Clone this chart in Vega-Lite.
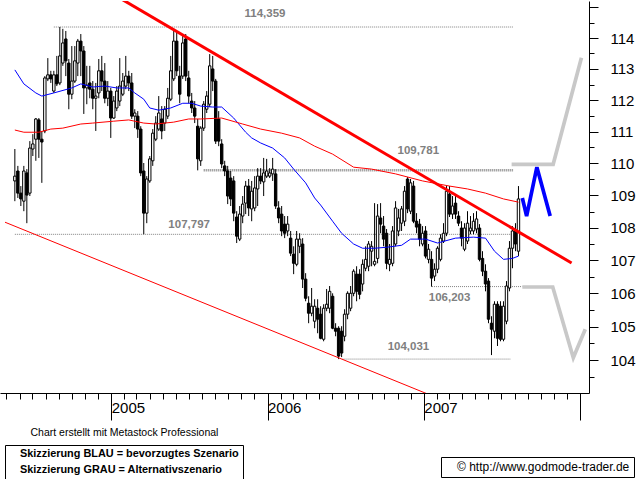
{
"$schema": "https://vega.github.io/schema/vega-lite/v6.json",
"width": 589, "height": 392, "padding": 0, "autosize": {"type": "pad"},
"background": "white",
"config": {"view": {"stroke": null}, "font": "Liberation Sans"},
"datasets": {
"candles": [
{"d":"2004-05-21","o":109.45,"h":110.45,"l":108.82,"c":109.60},
{"d":"2004-05-28","o":109.76,"h":109.92,"l":108.92,"c":109.07},
{"d":"2004-06-04","o":109.07,"h":109.29,"l":108.67,"c":108.89},
{"d":"2004-06-11","o":108.82,"h":109.92,"l":108.51,"c":109.76},
{"d":"2004-06-18","o":109.70,"h":109.82,"l":108.14,"c":109.01},
{"d":"2004-06-25","o":109.07,"h":110.70,"l":108.98,"c":110.48},
{"d":"2004-07-02","o":110.45,"h":110.92,"l":110.23,"c":110.61},
{"d":"2004-07-09","o":110.76,"h":111.43,"l":110.08,"c":111.40},
{"d":"2004-07-16","o":111.37,"h":111.43,"l":110.17,"c":110.76},
{"d":"2004-07-23","o":110.76,"h":111.02,"l":109.39,"c":110.67},
{"d":"2004-07-30","o":111.02,"h":112.77,"l":110.95,"c":112.71},
{"d":"2004-08-06","o":112.68,"h":113.35,"l":112.61,"c":112.81},
{"d":"2004-08-13","o":112.81,"h":112.94,"l":112.55,"c":112.68},
{"d":"2004-08-20","o":112.29,"h":112.94,"l":112.23,"c":112.81},
{"d":"2004-08-27","o":112.81,"h":113.42,"l":112.45,"c":112.52},
{"d":"2004-09-03","o":112.55,"h":114.36,"l":112.48,"c":113.42},
{"d":"2004-09-10","o":113.19,"h":114.30,"l":113.10,"c":113.84},
{"d":"2004-09-17","o":113.97,"h":114.23,"l":112.77,"c":113.26},
{"d":"2004-09-24","o":113.19,"h":113.32,"l":111.71,"c":112.19},
{"d":"2004-10-01","o":112.19,"h":113.74,"l":112.03,"c":112.61},
{"d":"2004-10-08","o":112.61,"h":113.74,"l":112.55,"c":113.26},
{"d":"2004-10-15","o":113.19,"h":113.97,"l":112.77,"c":113.90},
{"d":"2004-10-22","o":113.90,"h":114.13,"l":112.77,"c":113.58},
{"d":"2004-10-29","o":113.58,"h":113.74,"l":111.56,"c":112.39},
{"d":"2004-11-05","o":112.39,"h":113.10,"l":111.87,"c":112.48},
{"d":"2004-11-12","o":112.55,"h":113.10,"l":112.06,"c":112.35},
{"d":"2004-11-19","o":112.35,"h":112.61,"l":111.71,"c":112.06},
{"d":"2004-11-26","o":112.06,"h":112.55,"l":111.02,"c":112.13},
{"d":"2004-12-03","o":112.23,"h":113.32,"l":112.06,"c":112.94},
{"d":"2004-12-10","o":112.94,"h":113.42,"l":112.29,"c":112.61},
{"d":"2004-12-17","o":112.61,"h":113.19,"l":111.90,"c":112.06},
{"d":"2004-12-24","o":112.06,"h":112.61,"l":111.81,"c":112.29},
{"d":"2004-12-31","o":112.29,"h":112.39,"l":110.80,"c":111.43},
{"d":"2005-01-07","o":111.43,"h":112.13,"l":111.40,"c":111.97},
{"d":"2005-01-14","o":111.75,"h":112.45,"l":111.65,"c":112.29},
{"d":"2005-01-21","o":111.97,"h":113.35,"l":111.81,"c":112.45},
{"d":"2005-01-28","o":112.19,"h":112.87,"l":112.13,"c":112.61},
{"d":"2005-02-04","o":112.45,"h":113.42,"l":112.35,"c":112.77},
{"d":"2005-02-11","o":112.77,"h":112.94,"l":112.29,"c":112.55},
{"d":"2005-02-18","o":112.55,"h":112.87,"l":111.40,"c":111.49},
{"d":"2005-02-25","o":111.49,"h":111.71,"l":111.11,"c":111.59},
{"d":"2005-03-04","o":111.49,"h":111.65,"l":110.80,"c":111.08},
{"d":"2005-03-11","o":111.08,"h":111.17,"l":109.60,"c":109.70},
{"d":"2005-03-18","o":109.76,"h":110.01,"l":107.80,"c":108.45},
{"d":"2005-03-25","o":108.45,"h":109.60,"l":108.14,"c":109.51},
{"d":"2005-04-01","o":109.45,"h":110.23,"l":109.39,"c":110.14},
{"d":"2005-04-08","o":110.08,"h":111.08,"l":109.92,"c":110.95},
{"d":"2005-04-15","o":110.76,"h":111.49,"l":110.70,"c":111.27},
{"d":"2005-04-22","o":111.08,"h":112.13,"l":111.02,"c":111.59},
{"d":"2005-04-29","o":111.40,"h":111.81,"l":110.76,"c":111.02},
{"d":"2005-05-06","o":111.27,"h":111.81,"l":111.02,"c":111.71},
{"d":"2005-05-13","o":111.49,"h":112.39,"l":111.40,"c":112.06},
{"d":"2005-05-20","o":112.03,"h":113.42,"l":111.97,"c":112.94},
{"d":"2005-05-27","o":112.68,"h":114.30,"l":112.61,"c":113.90},
{"d":"2005-06-03","o":113.90,"h":114.23,"l":112.77,"c":112.94},
{"d":"2005-06-10","o":112.77,"h":113.10,"l":111.90,"c":112.19},
{"d":"2005-06-17","o":112.77,"h":114.13,"l":112.68,"c":113.84},
{"d":"2005-06-24","o":113.97,"h":114.13,"l":112.61,"c":112.77},
{"d":"2005-07-01","o":112.71,"h":112.94,"l":111.90,"c":112.13},
{"d":"2005-07-08","o":111.97,"h":112.23,"l":111.59,"c":111.75},
{"d":"2005-07-15","o":111.75,"h":111.97,"l":111.27,"c":111.49},
{"d":"2005-07-22","o":111.17,"h":111.40,"l":109.78,"c":110.14},
{"d":"2005-07-29","o":110.08,"h":111.17,"l":109.92,"c":111.11},
{"d":"2005-08-05","o":111.11,"h":111.97,"l":111.02,"c":111.87},
{"d":"2005-08-12","o":111.71,"h":112.29,"l":111.59,"c":112.13},
{"d":"2005-08-19","o":111.87,"h":113.48,"l":111.78,"c":113.10},
{"d":"2005-08-26","o":113.00,"h":113.42,"l":112.29,"c":112.61},
{"d":"2005-09-02","o":112.61,"h":112.68,"l":110.61,"c":110.70},
{"d":"2005-09-09","o":111.40,"h":111.65,"l":110.54,"c":110.70},
{"d":"2005-09-16","o":110.61,"h":110.76,"l":109.85,"c":109.98},
{"d":"2005-09-23","o":109.92,"h":110.08,"l":109.60,"c":109.76},
{"d":"2005-09-30","o":109.76,"h":109.92,"l":108.73,"c":108.98},
{"d":"2005-10-07","o":109.54,"h":109.76,"l":108.67,"c":108.89},
{"d":"2005-10-14","o":109.45,"h":109.60,"l":108.20,"c":108.45},
{"d":"2005-10-21","o":108.33,"h":108.51,"l":107.53,"c":107.74},
{"d":"2005-10-28","o":107.65,"h":108.67,"l":107.59,"c":108.42},
{"d":"2005-11-04","o":108.36,"h":108.98,"l":108.14,"c":108.73},
{"d":"2005-11-11","o":108.76,"h":109.45,"l":108.42,"c":109.29},
{"d":"2005-11-18","o":109.29,"h":109.51,"l":108.36,"c":108.61},
{"d":"2005-11-25","o":108.58,"h":109.45,"l":108.20,"c":109.13},
{"d":"2005-12-02","o":108.61,"h":109.60,"l":108.51,"c":109.23},
{"d":"2005-12-09","o":109.20,"h":109.85,"l":108.67,"c":109.60},
{"d":"2005-12-16","o":109.60,"h":109.85,"l":109.35,"c":109.45},
{"d":"2005-12-23","o":109.42,"h":110.17,"l":108.98,"c":109.70},
{"d":"2005-12-30","o":109.60,"h":110.14,"l":109.54,"c":109.76},
{"d":"2006-01-06","o":109.60,"h":109.85,"l":109.54,"c":109.70},
{"d":"2006-01-13","o":109.67,"h":110.17,"l":109.45,"c":109.82},
{"d":"2006-01-20","o":109.67,"h":109.82,"l":108.58,"c":108.67},
{"d":"2006-01-27","o":108.61,"h":108.82,"l":108.14,"c":108.30},
{"d":"2006-02-03","o":108.42,"h":108.67,"l":107.74,"c":107.90},
{"d":"2006-02-10","o":108.11,"h":108.36,"l":107.68,"c":107.83},
{"d":"2006-02-17","o":107.90,"h":108.36,"l":107.74,"c":108.11},
{"d":"2006-02-24","o":107.68,"h":107.90,"l":107.13,"c":107.22},
{"d":"2006-03-03","o":107.19,"h":107.43,"l":106.58,"c":106.91},
{"d":"2006-03-10","o":106.88,"h":107.90,"l":106.82,"c":107.65},
{"d":"2006-03-17","o":107.43,"h":107.83,"l":107.22,"c":107.65},
{"d":"2006-03-24","o":107.50,"h":107.68,"l":106.16,"c":106.43},
{"d":"2006-03-31","o":106.43,"h":106.61,"l":105.76,"c":105.85},
{"d":"2006-04-07","o":105.70,"h":105.91,"l":105.10,"c":105.40},
{"d":"2006-04-14","o":105.40,"h":106.16,"l":105.31,"c":105.61},
{"d":"2006-04-21","o":105.16,"h":105.82,"l":104.95,"c":105.61},
{"d":"2006-04-28","o":105.55,"h":105.82,"l":104.80,"c":105.22},
{"d":"2006-05-05","o":105.37,"h":105.61,"l":104.62,"c":104.65},
{"d":"2006-05-12","o":104.62,"h":105.67,"l":104.56,"c":105.55},
{"d":"2006-05-19","o":105.55,"h":106.13,"l":105.46,"c":105.67},
{"d":"2006-05-26","o":105.55,"h":106.22,"l":105.40,"c":106.06},
{"d":"2006-06-02","o":105.91,"h":106.00,"l":104.92,"c":104.95},
{"d":"2006-06-09","o":104.95,"h":105.10,"l":104.71,"c":104.86},
{"d":"2006-06-16","o":104.95,"h":105.01,"l":104.03,"c":104.12},
{"d":"2006-06-23","o":104.86,"h":105.01,"l":104.09,"c":104.21},
{"d":"2006-06-30","o":104.71,"h":105.52,"l":104.56,"c":105.37},
{"d":"2006-07-07","o":105.37,"h":106.06,"l":105.22,"c":106.00},
{"d":"2006-07-14","o":105.55,"h":106.22,"l":105.46,"c":106.00},
{"d":"2006-07-21","o":106.00,"h":106.73,"l":105.91,"c":106.67},
{"d":"2006-07-28","o":106.58,"h":106.82,"l":105.76,"c":106.06},
{"d":"2006-08-04","o":106.58,"h":106.73,"l":105.82,"c":105.97},
{"d":"2006-08-11","o":106.28,"h":107.03,"l":106.06,"c":106.88},
{"d":"2006-08-18","o":106.76,"h":107.43,"l":106.67,"c":107.03},
{"d":"2006-08-25","o":106.82,"h":107.59,"l":106.67,"c":107.50},
{"d":"2006-09-01","o":107.28,"h":107.59,"l":106.82,"c":107.43},
{"d":"2006-09-08","o":106.88,"h":108.76,"l":106.82,"c":106.97},
{"d":"2006-09-15","o":107.06,"h":108.73,"l":106.91,"c":108.36},
{"d":"2006-09-22","o":108.30,"h":108.76,"l":107.83,"c":108.11},
{"d":"2006-09-29","o":108.05,"h":108.36,"l":107.43,"c":107.65},
{"d":"2006-10-06","o":107.83,"h":107.96,"l":106.73,"c":106.91},
{"d":"2006-10-13","o":106.88,"h":107.50,"l":106.67,"c":107.03},
{"d":"2006-10-20","o":106.91,"h":108.05,"l":106.82,"c":107.90},
{"d":"2006-10-27","o":107.50,"h":108.82,"l":107.43,"c":108.61},
{"d":"2006-11-03","o":107.90,"h":108.58,"l":107.74,"c":108.30},
{"d":"2006-11-10","o":108.14,"h":108.67,"l":107.90,"c":108.58},
{"d":"2006-11-17","o":108.20,"h":109.29,"l":108.05,"c":109.13},
{"d":"2006-11-24","o":109.51,"h":109.57,"l":108.45,"c":108.58},
{"d":"2006-12-01","o":108.51,"h":109.51,"l":108.42,"c":109.39},
{"d":"2006-12-08","o":109.29,"h":109.45,"l":108.14,"c":108.20},
{"d":"2006-12-15","o":108.20,"h":108.45,"l":107.83,"c":108.02},
{"d":"2006-12-22","o":108.11,"h":108.27,"l":107.43,"c":107.65},
{"d":"2006-12-29","o":107.50,"h":108.05,"l":107.43,"c":107.83},
{"d":"2007-01-05","o":107.90,"h":108.05,"l":107.06,"c":107.13},
{"d":"2007-01-12","o":107.03,"h":107.50,"l":106.91,"c":107.34},
{"d":"2007-01-19","o":107.03,"h":107.28,"l":106.20,"c":106.46},
{"d":"2007-01-26","o":106.52,"h":106.91,"l":106.37,"c":106.73},
{"d":"2007-02-02","o":106.73,"h":107.43,"l":106.61,"c":107.37},
{"d":"2007-02-09","o":107.03,"h":107.80,"l":106.97,"c":107.68},
{"d":"2007-02-16","o":107.59,"h":108.14,"l":107.53,"c":107.83},
{"d":"2007-02-23","o":107.83,"h":109.29,"l":107.74,"c":109.13},
{"d":"2007-03-02","o":109.04,"h":109.29,"l":108.33,"c":108.42},
{"d":"2007-03-09","o":108.42,"h":108.98,"l":108.27,"c":108.67},
{"d":"2007-03-16","o":108.76,"h":108.98,"l":108.27,"c":108.42},
{"d":"2007-03-23","o":108.36,"h":108.51,"l":108.05,"c":108.14},
{"d":"2007-03-30","o":107.99,"h":108.20,"l":107.43,"c":107.68},
{"d":"2007-04-06","o":107.34,"h":108.14,"l":107.28,"c":107.99},
{"d":"2007-04-13","o":107.59,"h":108.51,"l":107.50,"c":108.14},
{"d":"2007-04-20","o":107.90,"h":108.36,"l":107.80,"c":107.99},
{"d":"2007-04-27","o":107.90,"h":108.45,"l":107.80,"c":108.20},
{"d":"2007-05-04","o":107.96,"h":108.51,"l":107.83,"c":108.27},
{"d":"2007-05-11","o":107.99,"h":108.11,"l":106.97,"c":107.03},
{"d":"2007-05-18","o":107.06,"h":107.28,"l":106.52,"c":106.67},
{"d":"2007-05-25","o":106.67,"h":106.88,"l":106.06,"c":106.28},
{"d":"2007-06-01","o":106.37,"h":106.46,"l":105.10,"c":105.22},
{"d":"2007-06-08","o":105.10,"h":105.31,"l":104.15,"c":104.92},
{"d":"2007-06-15","o":104.86,"h":105.76,"l":104.65,"c":105.67},
{"d":"2007-06-22","o":105.67,"h":105.76,"l":104.42,"c":104.65},
{"d":"2007-06-29","o":105.61,"h":105.76,"l":104.56,"c":104.62},
{"d":"2007-07-06","o":104.62,"h":105.76,"l":104.56,"c":105.61},
{"d":"2007-07-13","o":105.16,"h":106.37,"l":105.07,"c":106.22},
{"d":"2007-07-20","o":106.16,"h":107.59,"l":106.06,"c":107.37},
{"d":"2007-07-27","o":107.37,"h":108.05,"l":106.76,"c":107.90},
{"d":"2007-08-03","o":107.90,"h":108.14,"l":107.28,"c":107.50},
{"d":"2007-08-10","o":107.28,"h":109.29,"l":107.13,"c":108.89}
],
"ma": [
{"m":"b","d":"2004-05-21","v":112.97},{"m":"b","d":"2004-06-11","v":112.52},{"m":"b","d":"2004-07-09","v":112.23},{"m":"b","d":"2004-07-23","v":112.13},
{"m":"b","d":"2004-08-20","v":112.23},{"m":"b","d":"2004-10-01","v":112.39},{"m":"b","d":"2004-10-22","v":112.52},{"m":"b","d":"2004-11-19","v":112.42},
{"m":"b","d":"2004-12-17","v":112.45},{"m":"b","d":"2005-01-14","v":112.39},{"m":"b","d":"2005-02-11","v":112.39},{"m":"b","d":"2005-02-25","v":112.23},
{"m":"b","d":"2005-03-18","v":112.03},{"m":"b","d":"2005-04-01","v":111.75},{"m":"b","d":"2005-04-22","v":111.68},{"m":"b","d":"2005-05-20","v":111.75},
{"m":"b","d":"2005-06-17","v":111.90},{"m":"b","d":"2005-07-08","v":111.90},{"m":"b","d":"2005-07-29","v":111.81},{"m":"b","d":"2005-08-26","v":111.78},
{"m":"b","d":"2005-09-16","v":111.78},{"m":"b","d":"2005-10-14","v":111.43},{"m":"b","d":"2005-11-11","v":110.98},{"m":"b","d":"2005-11-25","v":110.80},
{"m":"b","d":"2005-12-16","v":110.64},{"m":"b","d":"2006-01-13","v":110.48},{"m":"b","d":"2006-02-10","v":110.17},{"m":"b","d":"2006-03-03","v":109.82},
{"m":"b","d":"2006-03-31","v":109.39},{"m":"b","d":"2006-04-21","v":108.92},{"m":"b","d":"2006-05-05","v":108.70},{"m":"b","d":"2006-06-02","v":108.20},
{"m":"b","d":"2006-06-23","v":107.83},{"m":"b","d":"2006-07-21","v":107.50},{"m":"b","d":"2006-08-11","v":107.37},{"m":"b","d":"2006-09-08","v":107.37},
{"m":"b","d":"2006-10-06","v":107.40},{"m":"b","d":"2006-11-10","v":107.46},{"m":"b","d":"2006-12-01","v":107.65},{"m":"b","d":"2007-01-05","v":107.65},
{"m":"b","d":"2007-02-02","v":107.53},{"m":"b","d":"2007-03-16","v":107.68},{"m":"b","d":"2007-04-27","v":107.71},{"m":"b","d":"2007-05-25","v":107.68},
{"m":"b","d":"2007-06-15","v":107.28},{"m":"b","d":"2007-07-06","v":107.03},{"m":"b","d":"2007-07-27","v":107.06},{"m":"b","d":"2007-08-10","v":107.13},
{"m":"r","d":"2004-05-21","v":111.05},{"m":"r","d":"2004-06-11","v":110.98},{"m":"r","d":"2004-07-16","v":110.98},{"m":"r","d":"2004-08-13","v":111.08},
{"m":"r","d":"2004-09-10","v":111.11},{"m":"r","d":"2004-10-22","v":111.24},{"m":"r","d":"2004-11-19","v":111.27},{"m":"r","d":"2005-01-07","v":111.33},
{"m":"r","d":"2005-02-11","v":111.37},{"m":"r","d":"2005-03-18","v":111.27},{"m":"r","d":"2005-04-15","v":111.24},{"m":"r","d":"2005-05-27","v":111.30},
{"m":"r","d":"2005-07-01","v":111.40},{"m":"r","d":"2005-07-29","v":111.40},{"m":"r","d":"2005-09-16","v":111.43},{"m":"r","d":"2005-11-04","v":111.24},
{"m":"r","d":"2005-12-16","v":111.08},{"m":"r","d":"2006-02-03","v":110.95},{"m":"r","d":"2006-03-17","v":110.80},{"m":"r","d":"2006-04-21","v":110.54},
{"m":"r","d":"2006-06-02","v":110.29},{"m":"r","d":"2006-07-21","v":109.88},{"m":"r","d":"2006-09-01","v":109.82},{"m":"r","d":"2006-10-27","v":109.67},
{"m":"r","d":"2006-12-29","v":109.45},{"m":"r","d":"2007-03-02","v":109.29},{"m":"r","d":"2007-04-13","v":109.20},{"m":"r","d":"2007-05-25","v":109.07},
{"m":"r","d":"2007-07-06","v":108.89},{"m":"r","d":"2007-08-10","v":108.79}
],
"lvl": [
{"d":"2004-08-20","d2":"2007-07-30","v":114.359},
{"d":"2005-08-05","d2":"2007-07-30","v":109.781},
{"d":"2004-05-21","d2":"2007-07-28","v":107.797},
{"d":"2007-01-20","d2":"2007-08-19","v":106.203},
{"d":"2006-06-25","d2":"2007-07-23","v":104.031}
],
"lbl": [
{"d":"2005-12-26","v":114.78,"t":"114,359"},
{"d":"2006-12-19","v":110.40,"t":"109,781"},
{"d":"2005-07-02","v":108.08,"t":"107,797"},
{"d":"2007-03-02","v":105.87,"t":"106,203"},
{"d":"2006-11-26","v":104.39,"t":"104,031"}
],
"trend": [
{"t":"thick","d":"2004-12-14","v":115.62},{"t":"thick","d":"2007-12-12","v":106.92},
{"t":"thin","d":"2004-04-28","v":108.17},{"t":"thin","d":"2007-02-26","v":102.76}
],
"scen": [
{"s":"BLAU","seg":"b","d":"2007-08-19","v":108.92},{"s":"BLAU","seg":"b","d":"2007-08-29","v":108.36},{"s":"BLAU","seg":"b","d":"2007-09-22","v":109.88},{"s":"BLAU","seg":"b","d":"2007-10-23","v":108.36},
{"s":"GRAU","seg":"g1","d":"2007-07-25","v":109.97},{"s":"GRAU","seg":"g1","d":"2007-10-30","v":109.97},{"s":"GRAU","seg":"g1","d":"2008-01-04","v":113.36},
{"s":"GRAU","seg":"g2","d":"2007-08-19","v":106.19},{"s":"GRAU","seg":"g2","d":"2007-10-29","v":106.19},{"s":"GRAU","seg":"g2","d":"2007-12-16","v":104.07},{"s":"GRAU","seg":"g2","d":"2008-01-13","v":104.92}
]
},
"encoding": {
"x": {"field": "d", "type": "temporal", "title": "Chart erstellt mit Metastock Professional",
  "scale": {"domain": [{"year": 2004, "month": 4, "date": 28}, {"year": 2008, "month": 1, "date": 10}]},
  "axis": {"orient": "bottom", "tickCount": {"interval": "month", "step": 1},
    "labelExpr": "month(datum.value) === 0 && year(datum.value) < 2008 ? timeFormat(datum.value, '%Y') : ''",
    "tickSize": {"condition": {"test": "month(datum.value) === 0", "value": 27}, "value": 6},
    "labelAlign": "left", "labelDx": 2, "labelPadding": -19.5, "labelFontSize": 15, "labelFont": "Liberation Sans",
    "labelColor": "black", "domainColor": "black", "tickColor": "black", "grid": false,
    "labelOverlap": false, "labelBound": false, "labelFlush": false,
    "titleX": 30, "titleY": 39, "titleAlign": "left", "titleAnchor": "start", "titleBaseline": "middle",
    "titleFont": "Liberation Sans", "titleFontSize": 10.5, "titleFontWeight": "normal", "titleColor": "black"}},
"y": {"field": "v", "type": "quantitative", "title": null,
  "scale": {"type": "log", "domain": [103.03, 115.21], "nice": false, "zero": false},
  "axis": {"orient": "right", "values": [103.5,104,104.5,105,105.5,106,106.5,107,107.5,108,108.5,109,109.5,110,110.5,111,111.5,112,112.5,113,113.5,114,114.5,115],
    "labelExpr": "abs(datum.value - round(datum.value)) < 0.01 && datum.value < 114.9 ? format(datum.value, 'd') : ''",
    "tickSize": {"condition": {"test": "abs(datum.value - round(datum.value)) < 0.01", "value": 9}, "value": 5},
    "labelPadding": 12, "labelFontSize": 15, "labelFont": "Liberation Sans", "labelColor": "black",
    "domainColor": "black", "tickColor": "black", "grid": false,
    "labelOverlap": false, "labelBound": false, "labelFlush": false}}
},
"layer": [
{"data": {"name": "lvl"}, "mark": {"type": "rule", "color": "#808080"},
 "encoding": {"x2": {"field": "d2"},
   "strokeWidth": {"condition": {"test": "datum.v === 109.781", "value": 2.5}, "value": 1},
   "strokeDash": {"datum": "© http://www.godmode-trader.de", "type": "nominal",
     "scale": {"range": [[1, 1]]},
     "legend": {"title": null, "orient": "none", "legendX": 441, "legendY": 456, "padding": 4,
       "strokeColor": "black", "fillColor": "white", "symbolSize": 0, "symbolOpacity": 0, "symbolStrokeWidth": 0,
       "labelOffset": 0, "labelFont": "Liberation Sans", "labelFontSize": 12, "labelColor": "black", "labelLimit": 400}}}},
{"data": {"name": "candles"}, "mark": {"type": "rule", "color": "black", "strokeWidth": 1},
 "encoding": {"y": {"field": "l", "type": "quantitative", "title": null, "scale": {"type": "log", "domain": [103.03, 115.21], "nice": false, "zero": false}}, "y2": {"field": "h"}}},
{"data": {"name": "candles"}, "mark": {"type": "bar", "size": 2.4, "stroke": "black", "strokeWidth": 1},
 "encoding": {"y": {"field": "o", "type": "quantitative", "title": null, "scale": {"type": "log", "domain": [103.03, 115.21], "nice": false, "zero": false}}, "y2": {"field": "c"},
   "fill": {"condition": {"test": "datum.c < datum.o", "value": "black"}, "value": "white"}}},
{"data": {"name": "ma"}, "transform": [{"filter": "datum.m === 'b'"}], "mark": {"type": "line", "color": "#0000ff", "strokeWidth": 1}, "encoding": {}},
{"data": {"name": "ma"}, "transform": [{"filter": "datum.m === 'r'"}], "mark": {"type": "line", "color": "#ff0000", "strokeWidth": 1}, "encoding": {}},
{"data": {"name": "trend"}, "transform": [{"filter": "datum.t === 'thick'"}], "mark": {"type": "line", "color": "#ff0000", "strokeWidth": 3, "clip": true}, "encoding": {}},
{"data": {"name": "trend"}, "transform": [{"filter": "datum.t === 'thin'"}], "mark": {"type": "line", "color": "#ff0000", "strokeWidth": 1, "clip": true}, "encoding": {}},
{"data": {"name": "scen"}, "mark": {"type": "line", "strokeWidth": 3.7, "clip": true},
 "encoding": {"detail": {"field": "seg"},
   "color": {"field": "s", "type": "nominal", "scale": {"domain": ["BLAU", "GRAU"], "range": ["#0000ff", "#c8c8c8"]},
     "legend": {"title": null, "orient": "none", "legendX": 5, "legendY": 444, "padding": 4, "strokeColor": "black", "fillColor": "white",
       "symbolSize": 0, "symbolOpacity": 0, "symbolStrokeWidth": 0, "labelOffset": 0, "rowPadding": 3.7,
       "labelFont": "Liberation Sans", "labelFontSize": 10.9, "labelFontWeight": "bold", "labelColor": "black", "labelLimit": 400,
       "labelExpr": "datum.label === 'BLAU' ? 'Skizzierung BLAU = bevorzugtes Szenario' : 'Skizzierung GRAU = Alternativszenario'"}}}},
{"data": {"name": "lbl"}, "mark": {"type": "text", "color": "#808080", "font": "Liberation Sans", "fontSize": 11.5, "fontWeight": "bold", "align": "center", "baseline": "middle"},
 "encoding": {"text": {"field": "t"}}}
]
}
